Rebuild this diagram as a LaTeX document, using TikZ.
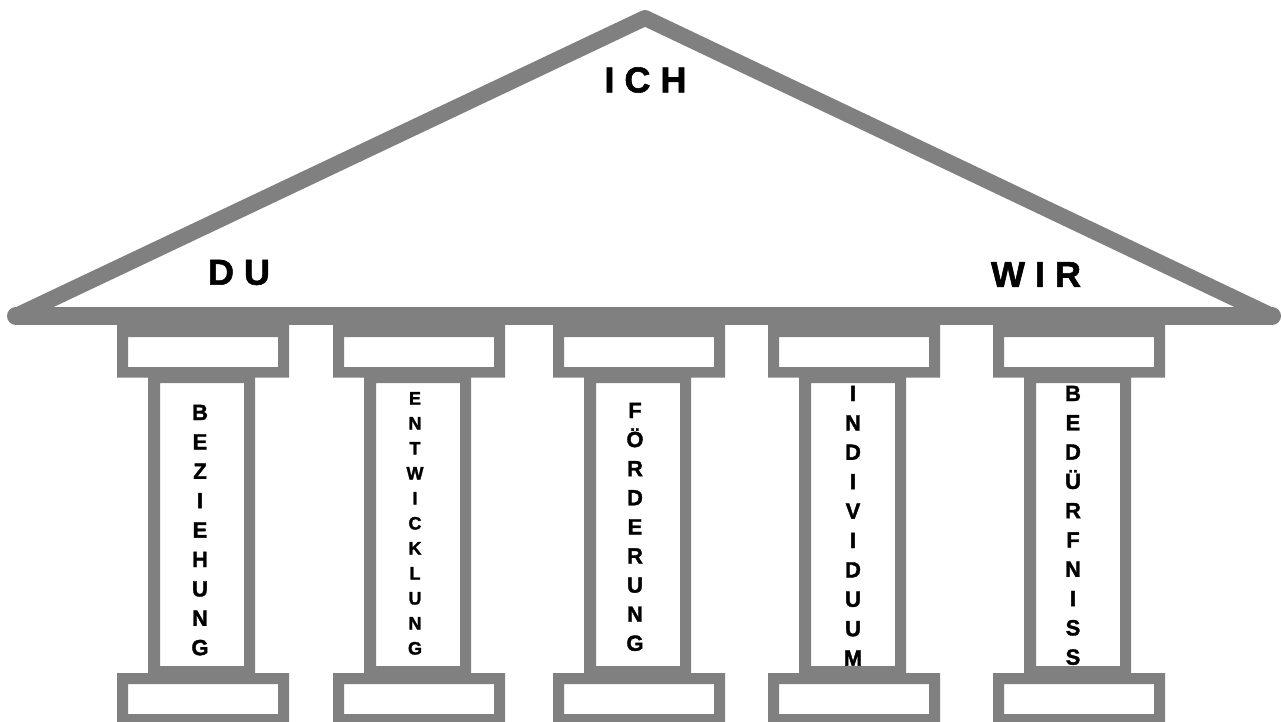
\documentclass[tikz,border=0pt]{standalone}
\usepackage{fontspec}
\setmainfont{Liberation Sans}
\newfontfamily\heavyfont{Liberation Sans}[FakeBold=1.6]
\definecolor{stone}{RGB}{128,128,128}
\begin{document}
\begin{tikzpicture}[x=1pt,y=-1pt,
  stonefill/.style={fill=stone, even odd rule},
  roofline/.style={draw=stone, line width=16pt, line join=round, line cap=round},
  beam/.style={draw=stone, line width=18pt, line cap=round},
  bigword/.style={font=\fontsize{36}{36}\selectfont\heavyfont\bfseries, inner sep=0pt, anchor=center},
  pillarletter/.style={font=\fontsize{22}{22}\selectfont\heavyfont\bfseries, inner sep=0pt, anchor=base},
  smallletter/.style={font=\fontsize{18}{18}\selectfont\heavyfont\bfseries, inner sep=0pt, anchor=base}]
\useasboundingbox (0,0) rectangle (1282,722);
\fill[white] (0,0) rectangle (1282,722);
\clip (0,0) rectangle (1282,722);

% words running down the shafts
\foreach \ch [count=\i from 0] in {B,E,Z,I,E,H,U,N,G}
  \node[pillarletter] (bez-\i) at (200, {420+29.4*\i}) {\ch};
\foreach \ch [count=\i from 0] in {E,N,T,W,I,C,K,L,U,N,G}
  \node[smallletter] (ent-\i) at (415, {404.5+25*\i}) {\ch};
\foreach \ch [count=\i from 0] in {F,Ö,R,D,E,R,U,N,G}
  \node[pillarletter] (foe-\i) at (635, {418+29.1*\i}) {\ch};
\foreach \ch [count=\i from 0] in {I,N,D,I,V,I,D,U,U,M}
  \node[pillarletter] (ind-\i) at (853, {401+29.4*\i}) {\ch};
\foreach \ch [count=\i from 0] in {B,E,D,Ü,R,F,N,I,S,S}
  \node[pillarletter] (bed-\i) at (1073, {401+29.3*\i}) {\ch};

% the five pillars: capital, shaft, base (stone frames with open centres)
\foreach \L in {117,333,553,768,993} {
  \fill[stonefill] (\L+31,372) rectangle (\L+138,678)
                   (\L+43,383) rectangle (\L+127,666);
  \fill[stonefill] (\L,322) rectangle (\L+172,377.5)
                   (\L+11,337) rectangle (\L+161,367);
  \fill[stonefill] (\L,673) rectangle (\L+172,730)
                   (\L+11,684) rectangle (\L+161,714);
}

% roof: gable and beam
\draw[roofline] (16,316) -- (645,18) -- (1272,316);
\draw[beam] (16,316) -- (1272,316);

% labels in the gable
\node[bigword] (ich) at (645.5,80) {I C H};
\node[bigword] (du) at (239,272.5) {D U};
\node[bigword] (wir) at (1036,274.5) {W I R};
\end{tikzpicture}
\end{document}
